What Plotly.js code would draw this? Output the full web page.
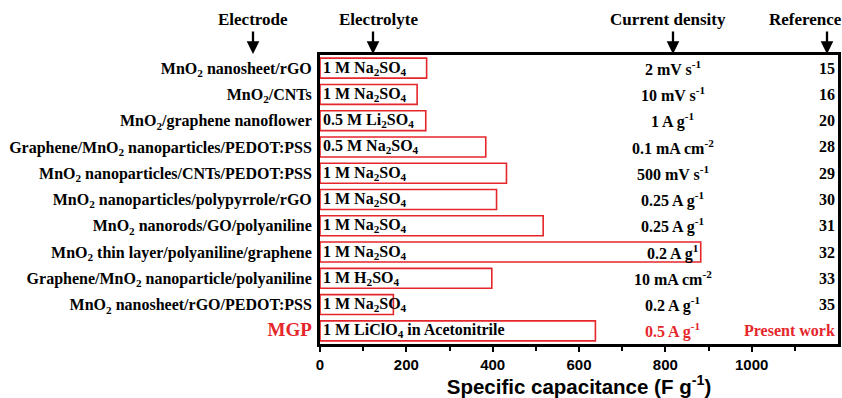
<!DOCTYPE html>
<html><head><meta charset="utf-8">
<script src="https://cdn.plot.ly/plotly-3.0.1.min.js"></script>
<style>html,body{margin:0;padding:0;background:#fff}#c{width:842px;height:398px}</style>
</head><body><div id="c"></div>
<script>
const electrodes = [
  "MnO<sub>2</sub> nanosheet/rGO",
  "MnO<sub>2</sub>/CNTs",
  "MnO<sub>2</sub>/graphene nanoflower",
  "Graphene/MnO<sub>2</sub> nanoparticles/PEDOT:PSS",
  "MnO<sub>2</sub> nanoparticles/CNTs/PEDOT:PSS",
  "MnO<sub>2</sub> nanoparticles/polypyrrole/rGO",
  "MnO<sub>2</sub> nanorods/GO/polyaniline",
  "MnO<sub>2</sub> thin layer/polyaniline/graphene",
  "Graphene/MnO<sub>2</sub> nanoparticle/polyaniline",
  "MnO<sub>2</sub> nanosheet/rGO/PEDOT:PSS",
  "MGP"
];
const capacitance = [247, 225, 245, 384, 432, 409, 517, 882, 398, 170, 638];
const electrolytes = [
  "1 M Na<sub>2</sub>SO<sub>4</sub>",
  "1 M Na<sub>2</sub>SO<sub>4</sub>",
  "0.5 M Li<sub>2</sub>SO<sub>4</sub>",
  "0.5 M Na<sub>2</sub>SO<sub>4</sub>",
  "1 M Na<sub>2</sub>SO<sub>4</sub>",
  "1 M Na<sub>2</sub>SO<sub>4</sub>",
  "1 M Na<sub>2</sub>SO<sub>4</sub>",
  "1 M Na<sub>2</sub>SO<sub>4</sub>",
  "1 M H<sub>2</sub>SO<sub>4</sub>",
  "1 M Na<sub>2</sub>SO<sub>4</sub>",
  "1 M LiClO<sub>4</sub> in Acetonitrile"
];
const currentDensity = [
  "2 mV s<sup>-1</sup>",
  "10 mV s<sup>-1</sup>",
  "1 A g<sup>-1</sup>",
  "0.1 mA cm<sup>-2</sup>",
  "500 mV s<sup>-1</sup>",
  "0.25 A g<sup>-1</sup>",
  "0.25 A g<sup>-1</sup>",
  "0.2 A g<sup>1</sup>",
  "10 mA cm<sup>-2</sup>",
  "0.2 A g<sup>-1</sup>",
  "0.5 A g<sup>-1</sup>"
];
const references = ["15","16","20","28","29","30","31","32","33","35","Present work"];
const headers = ["Electrode","Electrolyte","Current density","Reference"];
const xTicks = [0,200,400,600,800,1000];
const xMinor = [100,300,500,700,900,1100];

const RED = '#e5262b';
const SERIF = '"Liberation Serif", "Times New Roman", serif';
const SANS = '"Liberation Sans", Arial, sans-serif';
const n = electrodes.length;
const cats = electrodes.map((e,i)=> i===n-1 ? '<span style="color:'+RED+';font-size:19px">'+e+'</span>' : e);

const trace = {
  type:'bar', orientation:'h', x:capacitance, y:cats, width:0.76,
  marker:{color:'rgba(255,255,255,0)', line:{color:RED, width:1.6}},
  hoverinfo:'none'
};

const ann = [];
const f = (c)=>({family:SERIF, size:16, color:c, weight:'bold'});
for (let i=0;i<n;i++){
  const c = i===n-1 ? RED : 'black';
  ann.push({x:0, y:cats[i], xref:'x', yref:'y', text:electrolytes[i], showarrow:false, xanchor:'left', xshift:1, font:f('black')});
  ann.push({x:818, y:cats[i], xref:'x', yref:'y', text:currentDensity[i], showarrow:false, xanchor:'center', font:f(c)});
  ann.push({x:1200, y:cats[i], xref:'x', yref:'y', text:references[i], showarrow:false, xanchor:'right', xshift:-1, font:f(c)});
}
// column headers (pixel positions converted to paper fraction) and arrows
const W = 838-320;
const px = (p)=>(p-320)/W;
const hdrTextPx = [253, 378, 668, 805];
const hdrArrowPx = [253, 373, 673, 827];
for (let k=0;k<headers.length;k++){
  ann.push({x:px(hdrTextPx[k]), y:1, xref:'paper', yref:'paper', xanchor:'center', yanchor:'middle', yshift:36,
    text:headers[k], showarrow:false, font:{family:SERIF, size:17, color:'black', weight:'bold'}});
  ann.push({x:px(hdrArrowPx[k]), y:1, xref:'paper', yref:'paper', text:'', showarrow:true,
    ax:0, ay:-25, arrowhead:2, arrowsize:1.1, arrowwidth:2.3, arrowcolor:'black', standoff:1});
}

const layout = {
  width:842, height:398, margin:{l:320, r:4, t:55, b:54},
  paper_bgcolor:'white', plot_bgcolor:'white', showlegend:false,
  xaxis:{range:[0,1200], tickmode:'array', tickvals:xTicks, showgrid:false, zeroline:false,
    showline:true, mirror:true, linewidth:3, linecolor:'black',
    ticks:'outside', ticklen:5, tickwidth:2, tickcolor:'black',
    minor:{tickmode:'array', tickvals:xMinor, ticks:'outside', ticklen:4, tickwidth:2, tickcolor:'black', showgrid:false},
    tickfont:{family:SANS, size:15, color:'black', weight:'bold'},
    title:{text:'Specific capacitance (F g<sup>-1</sup>)', standoff:6, font:{family:SANS, size:20.5, color:'black', weight:'bold'}}
  },
  yaxis:{type:'category', autorange:'reversed', showgrid:false, zeroline:false,
    showline:true, mirror:true, linewidth:3, linecolor:'black', ticks:'', ticklabelstandoff:2,
    tickfont:{family:SERIF, size:16, color:'black', weight:'bold'}},
  annotations:ann
};
Plotly.newPlot('c',[trace],layout,{displayModeBar:false, staticPlot:true});
</script></body></html>
